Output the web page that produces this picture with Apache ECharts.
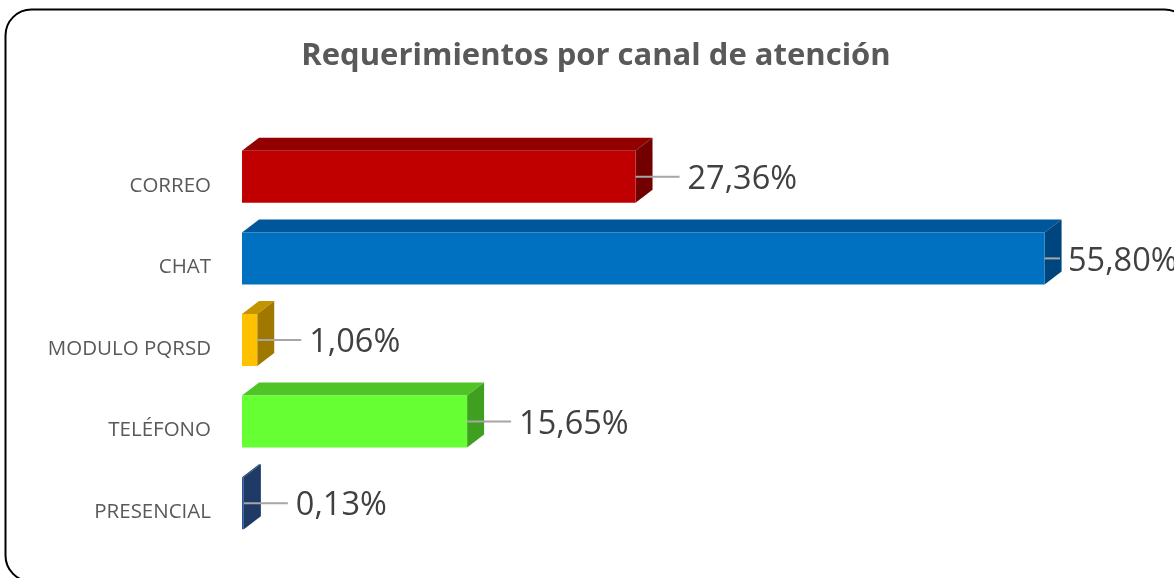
<!DOCTYPE html>
<html>
<head>
<meta charset="utf-8">
<script src="https://cdn.jsdelivr.net/npm/echarts@6/dist/echarts.min.js"></script>
<style>
html,body{margin:0;padding:0;background:#fff;}
#chart{width:1174px;height:578px;}
</style>
</head>
<body>
<div id="chart"></div>
<script>
const categories = ['CORREO', 'CHAT', 'MODULO PQRSD', 'TELÉFONO', 'PRESENCIAL'];
const values = [27.36, 55.80, 1.06, 15.65, 0.13];
const frontColors = ['#C00000', '#0070C0', '#FFC000', '#66FF33', '#2F5597'];
const topColors = ['#930000', '#00569A', '#C49400', '#4EC427', '#254577'];
const sideColors = ['#720000', '#00467E', '#A07800', '#3FA020', '#1F3A66'];
const titleText = 'Requerimientos por canal de atención';

function fmt(v) { return v.toFixed(2).replace('.', ',') + '%'; }

const chart = echarts.init(document.getElementById('chart'));
chart.setOption({
  backgroundColor: '#ffffff',
  animation: false,
  title: {
    text: titleText,
    left: 591,
    top: 36,
    textAlign: 'center',
    textStyle: { fontFamily: 'Open Sans', fontWeight: 'bold', fontSize: 31, color: '#595959' }
  },
  graphic: [{
    type: 'rect',
    shape: { x: 5.5, y: 9.5, width: 1185, height: 572, r: 26 },
    style: { fill: 'none', stroke: '#000', lineWidth: 2 },
    silent: true
  }],
  grid: { left: 242, right: 69, top: 136, bottom: 34 },
  xAxis: { type: 'value', min: 0, max: 60, show: false },
  yAxis: {
    type: 'category',
    data: categories,
    inverse: true,
    axisLine: { show: false },
    axisTick: { show: false },
    splitLine: { show: false },
    axisLabel: {
      margin: 31,
      formatter: function (v) { return '\n' + v; },
      lineHeight: 18,
      fontFamily: 'Open Sans',
      fontSize: 20.5,
      color: '#595959'
    }
  },
  series: [{
    type: 'custom',
    data: values.map((v, i) => [v, i]),
    encode: { x: 0, y: 1 },
    renderItem: function (params, api) {
      const i = api.value(1);
      const v = api.value(0);
      const p0 = api.coord([0, i]);
      const p1 = api.coord([v, i]);
      const band = api.size([0, 1])[1];
      const h = band * 0.637;
      const dx = 17, dy = 13;
      const x0 = p0[0], x1 = p1[0], cy = p0[1];
      const top = cy - h / 2, bot = cy + h / 2;
      const lineEnd = Math.min(x1 + 44, api.getWidth() - 114);
      return {
        type: 'group',
        children: [
          { type: 'polygon', shape: { points: [[x0, top], [x0 + dx, top - dy], [x1 + dx, top - dy], [x1, top]] },
            style: { fill: topColors[i] } },
          { type: 'polygon', shape: { points: [[x1, top], [x1 + dx, top - dy], [x1 + dx, bot - dy], [x1, bot]] },
            style: { fill: sideColors[i] } },
          { type: 'rect', shape: { x: x0, y: top, width: Math.max(x1 - x0, 0.5), height: h },
            style: { fill: frontColors[i] } },
          { type: 'line', shape: { x1: x1, y1: cy, x2: lineEnd, y2: cy },
            style: { stroke: '#A6A6A6', lineWidth: 2 } },
          { type: 'text', x: lineEnd + 8, y: cy + 3,
            style: { text: fmt(v), fontFamily: 'Open Sans', fontSize: 32.5, fill: '#404040',
                     textAlign: 'left', textVerticalAlign: 'middle' } }
        ]
      };
    }
  }]
});
</script>
</body>
</html>
